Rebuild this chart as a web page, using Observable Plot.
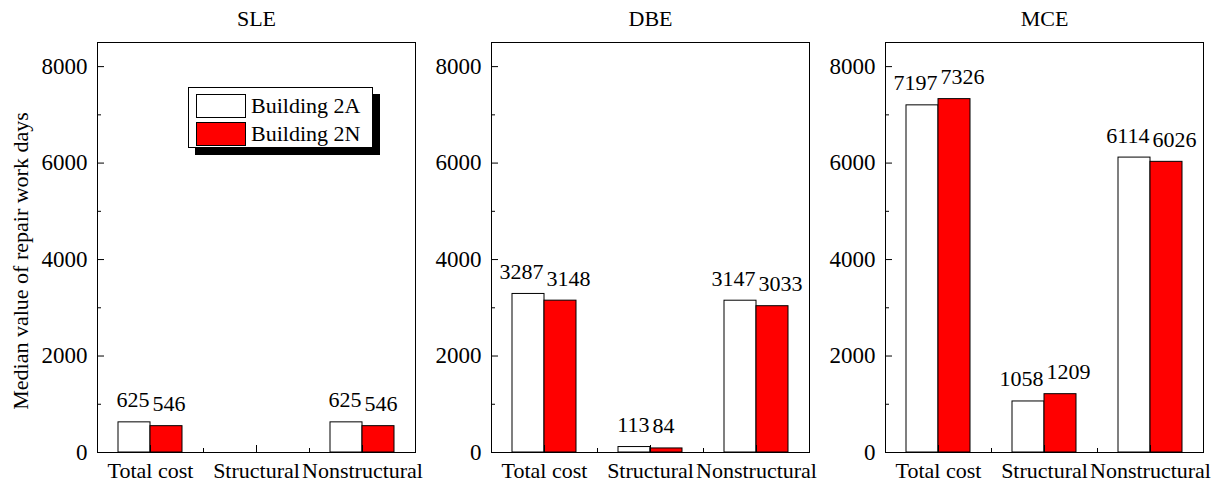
<!DOCTYPE html>
<html>
<head>
<meta charset="utf-8">
<script src="https://cdn.jsdelivr.net/npm/d3@7"></script>
<script src="https://cdn.jsdelivr.net/npm/@observablehq/plot@0.6"></script>
<style>
  body { margin: 0; background: #fff; color: #000; }
  #chart { position: relative; width: 1212px; height: 482px; font-family: "Liberation Serif", "Times New Roman", serif; }
  .panel { position: absolute; top: 0; }
  .panel svg { overflow: visible; }
  .panel svg text { font-family: "Liberation Serif", "Times New Roman", serif; }
  #ytitle { position: absolute; left: 21px; top: 261px; transform: translate(-50%, -50%) rotate(-90deg); white-space: nowrap; font-size: 22px; }
  #legend { position: absolute; left: 188px; top: 87px; width: 183px; height: 59px; border: 1px solid #000; background: #fff; box-shadow: 7px 7px 0 #000; font-size: 22px; }
  .lg-row { position: absolute; left: 7px; display: flex; align-items: center; }
  .lg-sw { width: 48px; height: 22px; border: 1px solid #000; margin-right: 5px; }
</style>
</head>
<body>
<div id="chart"></div>
<script>
// ---- data ----
const categories = ["Total cost", "Structural", "Nonstructural"];
const levels = ["SLE", "DBE", "MCE"];
const buildings = ["Building 2A", "Building 2N"];
const buildingColors = ["#ffffff", "#ff0000"];
const sle2A = [625, 0, 625];
const sle2N = [546, 0, 546];
const dbe2A = [3287, 113, 3147];
const dbe2N = [3148, 84, 3033];
const mce2A = [7197, 1058, 6114];
const mce2N = [7326, 1209, 6026];
const yTicks = [0, 2000, 4000, 6000, 8000];
const yMinorTicks = [1000, 3000, 5000, 7000];
const yTitle = "Median value of repair work days";

const seriesByLevel = {SLE: [sle2A, sle2N], DBE: [dbe2A, dbe2N], MCE: [mce2A, mce2N]};

// ---- layout ----
const W = 394, ML = 76, MR = 0, MT = 42, MB = 30, H = 482;
const fw = W - ML - MR, fh = H - MT - MB, bw = fw / categories.length;
const barW = 32, half = bw / 2;
const font = '"Liberation Serif", "Times New Roman", serif';

const chart = document.getElementById("chart");

levels.forEach((level, li) => {
  const [a, n] = seriesByLevel[level];
  const rowsA = categories.map((c, i) => ({category: c, building: buildings[0], value: a[i]}));
  const rowsN = categories.map((c, i) => ({category: c, building: buildings[1], value: n[i]}));
  const plot = Plot.plot({
    width: W, height: H,
    marginLeft: ML, marginRight: MR, marginTop: MT, marginBottom: MB,
    style: {fontFamily: font, fontSize: "23px", background: "transparent", color: "#000", overflow: "visible"},
    x: {domain: categories, padding: 0, axis: null},
    y: {domain: [0, 8500], axis: null},
    color: {domain: buildings, range: buildingColors},
    marks: [
      Plot.barY(rowsA, {x: "category", y: "value", fill: "building", stroke: "#000", strokeWidth: 1,
        insetLeft: half - barW, insetRight: half}),
      Plot.barY(rowsN, {x: "category", y: "value", fill: "building", stroke: "#000", strokeWidth: 1,
        insetLeft: half, insetRight: half - barW}),
      Plot.text(rowsA.filter(d => d.value > 0), {x: "category", y: "value", text: d => String(d.value),
        lineAnchor: "bottom", textAnchor: "end", dy: -15, dx: -1, fontSize: 22, fill: "#000"}),
      Plot.text(rowsN.filter(d => d.value > 0), {x: "category", y: "value", text: d => String(d.value),
        lineAnchor: "bottom", textAnchor: "start", dy: -15, dx: 2, fontSize: 22, fill: "#000"}),
      Plot.tickY(yTicks, {y: d => d, insetRight: fw - 7, stroke: "#000"}),
      Plot.tickY(yMinorTicks, {y: d => d, insetRight: fw - 4, stroke: "#000"}),
      Plot.tickX(categories, {x: d => d, insetTop: fh - 7, stroke: "#000"}),
      Plot.tickX(categories.slice(1), {x: d => d, dx: -half, insetTop: fh - 4, stroke: "#000"}),
      Plot.axisY({ticks: yTicks, tickSize: 0, tickPadding: 10, label: null, tickFormat: d => String(d)}),
      Plot.axisX({tickSize: 0, tickPadding: 10, label: null, fontSize: 22}),
      Plot.text([level], {frameAnchor: "top", dy: -32, fontSize: 22, fill: "#000"}),
      Plot.frame({stroke: "#000", strokeWidth: 1})
    ]
  });
  const wrap = document.createElement("div");
  wrap.className = "panel";
  wrap.style.left = (21 + li * W) + "px";
  wrap.appendChild(plot);
  chart.appendChild(wrap);
});

// y title
const yt = document.createElement("div");
yt.id = "ytitle";
yt.textContent = yTitle;
chart.appendChild(yt);

// legend
const lg = document.createElement("div");
lg.id = "legend";
buildings.forEach((b, i) => {
  const row = document.createElement("div");
  row.className = "lg-row";
  row.style.top = (5 + i * 28) + "px";
  const sw = document.createElement("div");
  sw.className = "lg-sw";
  sw.style.background = buildingColors[i];
  const tx = document.createElement("span");
  tx.textContent = b;
  row.appendChild(sw);
  row.appendChild(tx);
  lg.appendChild(row);
});
chart.appendChild(lg);
</script>
</body>
</html>
